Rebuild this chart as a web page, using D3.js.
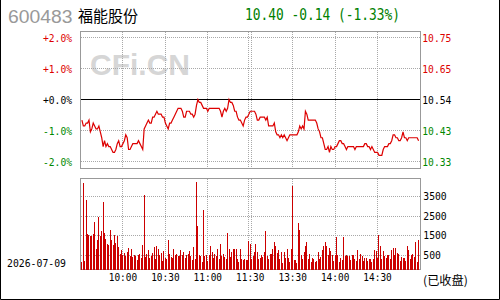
<!DOCTYPE html>
<html><head><meta charset="utf-8">
<script src="https://cdn.jsdelivr.net/npm/d3@7/dist/d3.min.js"></script>
<style>html,body{margin:0;padding:0;background:#fff;}svg{display:block;}</style>
</head><body>
<svg id="c" width="500" height="300"></svg>
<script>
const stockCode = "600483";
const stockName = "福能股份";
const quoteText = "10.40 -0.14 (-1.33%)";
const dateLabel = "2026-07-09";
const closedLabel = "(已收盘)";
const prevClose = 10.54;
const pctTicks = [2, 1, 0, -1, -2];
const pctLabels = ["+2.0%", "+1.0%", "+0.0%", "-1.0%", "-2.0%"];
const priceLabels = ["10.75", "10.65", "10.54", "10.43", "10.33"];
const timeTicks = [30, 60, 90, 120, 150, 180, 210];
const timeLabels = ["10:00", "10:30", "11:00", "11:30", "13:30", "14:00", "14:30"];
const volTicks = [500, 1500, 2500, 3500];
// minute prices (yuan)
const prices = [
10.47,10.45,10.45,10.46,10.46,10.47,10.43,10.44,10.46,10.45,
10.44,10.44,10.45,10.43,10.41,10.38,10.40,10.38,10.39,10.38,
10.38,10.37,10.36,10.36,10.37,10.39,10.40,10.38,10.38,10.39,
10.40,10.42,10.41,10.37,10.37,10.38,10.39,10.39,10.39,10.39,
10.40,10.39,10.38,10.37,10.44,10.45,10.46,10.47,10.46,10.46,
10.48,10.48,10.49,10.50,10.49,10.49,10.49,10.48,10.48,10.46,
10.45,10.44,10.46,10.46,10.47,10.48,10.49,10.50,10.51,10.51,
10.51,10.50,10.48,10.48,10.50,10.50,10.50,10.49,10.49,10.48,
10.49,10.52,10.54,10.53,10.53,10.52,10.51,10.51,10.51,10.50,
10.51,10.51,10.51,10.51,10.51,10.51,10.51,10.51,10.50,10.48,
10.50,10.51,10.50,10.51,10.54,10.53,10.53,10.52,10.50,10.50,
10.48,10.47,10.47,10.46,10.45,10.47,10.48,10.48,10.49,10.50,
10.50,10.50,10.50,10.49,10.47,10.47,10.48,10.48,10.48,10.48,
10.47,10.48,10.45,10.45,10.45,10.45,10.46,10.43,10.42,10.42,
10.41,10.42,10.41,10.42,10.41,10.40,10.41,10.42,10.42,10.42,
10.42,10.42,10.42,10.43,10.45,10.44,10.45,10.44,10.50,10.49,
10.47,10.47,10.47,10.47,10.47,10.47,10.46,10.44,10.43,10.41,
10.41,10.39,10.37,10.37,10.38,10.36,10.38,10.37,10.37,10.38,
10.38,10.39,10.40,10.40,10.39,10.39,10.38,10.37,10.38,10.38,
10.38,10.38,10.38,10.37,10.38,10.38,10.38,10.38,10.38,10.38,
10.39,10.39,10.38,10.38,10.37,10.38,10.37,10.36,10.36,10.36,
10.35,10.35,10.35,10.37,10.38,10.38,10.38,10.39,10.39,10.40,
10.42,10.42,10.41,10.41,10.40,10.40,10.41,10.43,10.41,10.41,
10.40,10.41,10.41,10.41,10.41,10.41,10.41,10.41,10.40
];
// minute volumes
const volumes = [
150,4190,200,3310,1570,1520,1480,1480,1570,2190,
840,1280,2460,1480,1740,3210,1650,1350,1060,1010,
1790,1310,1010,1520,1140,1480,940,600,770,500,
640,470,670,870,470,840,420,500,470,270,
500,570,380,1020,3570,430,570,770,380,470,
640,940,330,980,810,520,640,210,720,380,
300,1280,600,430,360,810,530,600,470,470,
770,500,670,360,530,600,720,470,270,950,
330,4230,2020,540,470,190,2800,470,500,210,
540,980,670,380,600,470,810,330,1110,470,
600,410,300,1650,840,430,670,810,810,840,
330,160,840,330,270,330,270,270,1230,1060,
330,470,670,1060,670,330,380,500,430,670,
1740,470,300,600,600,840,1190,980,640,770,
330,670,100,670,380,810,380,160,840,4020,
270,270,100,2160,1790,540,330,670,980,1180,
300,600,150,350,330,160,200,670,300,420,
770,980,1190,980,540,870,720,500,210,540,
1430,500,160,380,270,1430,470,500,470,470,
270,500,540,330,210,770,330,600,470,210,
380,380,210,300,330,160,300,770,720,380,
1520,980,300,720,470,380,500,540,300,770,
870,500,870,640,600,210,430,380,380,210,
980,770,300,540,600,430,1190,160,1280
];

const svg = d3.select("#c");
const RED = "#dd0000", GREEN = "#008800", GRID = "#a8a8a8", BORDER = "#999";
const MONO = "'DejaVu Sans Mono', monospace";
const CJK = "'Noto Sans CJK SC', sans-serif";

const x = d3.scaleLinear().domain([0, 240]).range([80.5, 420]);
const yp = d3.scaleLinear().domain([-2, 2]).range([161.5, 37.5]);
const yv = d3.scaleLinear().domain([0, 3500]).range([265.33, 196.5]);
const pL = 80.5, pR = 420.5, pT = 31.5, pB = 168.5;
const vT = 178.5, vB = 269.5;

// outer frame
svg.append("path").attr("d", "M0.5,0 V299.5 H499.5 V0").attr("fill", "none").attr("stroke", "#000");

function txt(s, x0, y0, size, fam, fill, len) {
  const t = svg.append("text").attr("x", x0).attr("y", y0).attr("font-size", size)
    .attr("font-family", fam).attr("fill", fill).text(s);
  if (len) t.attr("textLength", len).attr("lengthAdjust", "spacingAndGlyphs");
  return t;
}

// header
txt(stockCode, 8, 22.5, 18, "'Liberation Sans', Arial, sans-serif", "#999", 64.5);
txt(stockName, 78, 21.5, 16, CJK, "#000", 60);
txt(quoteText, 245, 20.3, 15, MONO, "#008000", 155);

// watermark
txt("CFi.CN", 90, 75, 30, "'Liberation Sans', Arial, sans-serif", "#d6d6d6").attr("font-weight", "bold");

// price grid
const g = svg.append("g").attr("shape-rendering", "crispEdges");
pctTicks.forEach((p, i) => {
  if (p === 0) return;
  g.append("line").attr("x1", pL).attr("x2", pR).attr("y1", yp(p)).attr("y2", yp(p))
    .attr("stroke", GRID).attr("stroke-dasharray", "1,1");
});
function vgrid(y1, y2) {
  timeTicks.forEach(t => {
    const xs = t === 120 ? [Math.floor(x(t)) - 1.5, Math.floor(x(t)) + 1.5] : [Math.floor(x(t)) + 0.5];
    xs.forEach(xx => g.append("line").attr("x1", xx).attr("x2", xx).attr("y1", y1).attr("y2", y2)
      .attr("stroke", GRID).attr("stroke-dasharray", "1,1"));
  });
}
vgrid(pT, pB);
g.append("line").attr("x1", pL).attr("x2", pR).attr("y1", yp(0)).attr("y2", yp(0)).attr("stroke", "#000");

// price line
const pct = prices.map(p => (p - prevClose) / prevClose * 100);
svg.append("path").datum(pct)
  .attr("d", d3.line().x((d, i) => x(i + 1)).y(d => yp(d)))
  .attr("fill", "none").attr("stroke", RED).attr("stroke-width", 1.2);

g.append("rect").attr("x", pL).attr("y", pT).attr("width", pR - pL).attr("height", pB - pT)
  .attr("fill", "none").attr("stroke", BORDER);

// price labels
const colorFor = p => p > 0 ? RED : (p < 0 ? GREEN : "#000");
pctTicks.forEach((p, i) => {
  txt(pctLabels[i], 72 - 29, yp(p) + 4, 11, MONO, colorFor(p), 29);
  txt(priceLabels[i], 422.3, yp(p) + 4.5, 11, MONO, colorFor(p), 29);
});

// volume grid
volTicks.forEach(v => {
  g.append("line").attr("x1", pL).attr("x2", pR).attr("y1", Math.floor(yv(v)) + 0.5).attr("y2", Math.floor(yv(v)) + 0.5)
    .attr("stroke", GRID).attr("stroke-dasharray", "1,1");
  const s = String(v);
  txt(s, 423.3, Math.floor(yv(v)) + 3.5, 11, MONO, "#000", s.length * 5.85);
});
vgrid(vT, vB);

// volume bars
svg.append("g").attr("shape-rendering", "crispEdges").selectAll("rect").data(volumes).join("rect")
  .attr("x", (d, i) => Math.floor(x(i + 1)))
  .attr("width", 1)
  .attr("y", d => yv(d))
  .attr("height", d => vB - yv(d))
  .attr("fill", "#cc0000");

g.append("rect").attr("x", pL).attr("y", vT).attr("width", pR - pL).attr("height", vB - vT)
  .attr("fill", "none").attr("stroke", BORDER);

// time labels
timeTicks.forEach((t, i) => {
  txt(timeLabels[i], x(t) - 14.2, 280.5, 11, MONO, "#000", 28.4);
});
txt(dateLabel, 7, 267.3, 11, MONO, "#000", 59);
txt(closedLabel, 423, 284.5, 12, CJK, "#000", 45);
</script>
</body></html>
